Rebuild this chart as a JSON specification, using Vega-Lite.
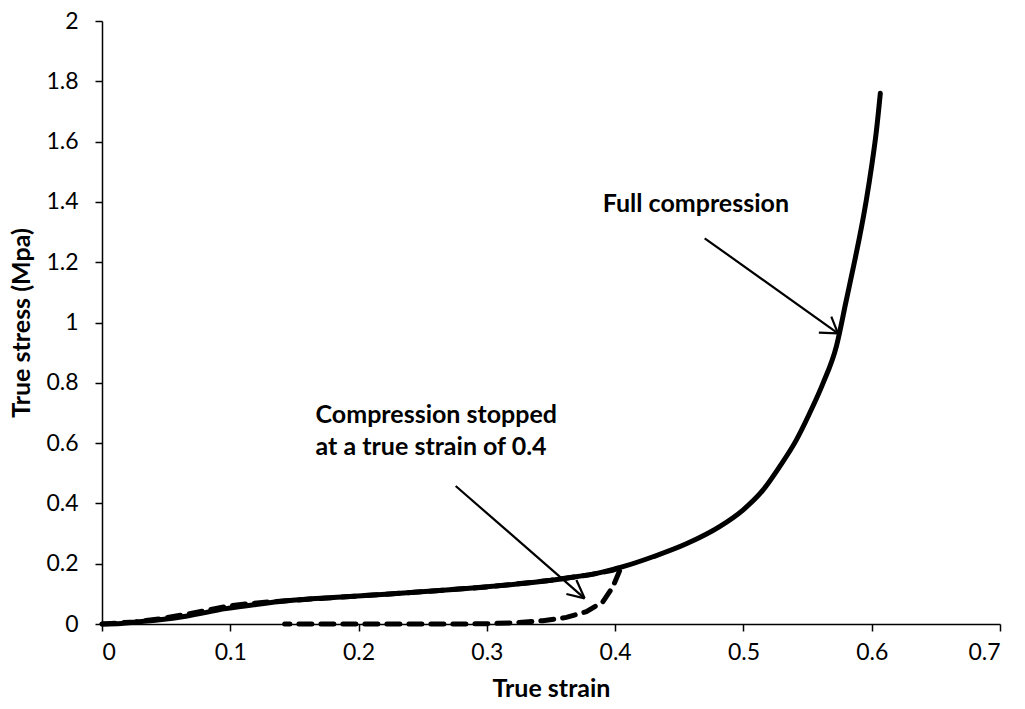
{
  "$schema": "https://vega.github.io/schema/vega-lite/v6.json",
  "autosize": {"type": "none"},
  "width": 898,
  "height": 603,
  "padding": {"left": 102, "top": 21, "right": 25, "bottom": 85},
  "background": "white",
  "config": {
    "view": {"stroke": null},
    "font": "Lato",
    "axis": {
      "domainColor": "black",
      "domainWidth": 1.5,
      "tickColor": "black",
      "tickWidth": 1.5,
      "tickSize": 7,
      "grid": false,
      "labelFont": "Lato",
      "labelFontSize": 23,
      "labelColor": "black",
      "titleFont": "Lato",
      "titleFontSize": 25,
      "titleFontWeight": "bold",
      "titleColor": "black"
    }
  },
  "datasets": {
    "solid": [
      {"strain": 0, "stress": 0},
      {"strain": 0.015, "stress": 0.002},
      {"strain": 0.026, "stress": 0.006},
      {"strain": 0.045, "stress": 0.014},
      {"strain": 0.0654, "stress": 0.026},
      {"strain": 0.0966, "stress": 0.051},
      {"strain": 0.12, "stress": 0.065},
      {"strain": 0.1463, "stress": 0.078},
      {"strain": 0.18, "stress": 0.088},
      {"strain": 0.2242, "stress": 0.0995},
      {"strain": 0.26, "stress": 0.11},
      {"strain": 0.284, "stress": 0.118},
      {"strain": 0.3022, "stress": 0.124},
      {"strain": 0.33, "stress": 0.135},
      {"strain": 0.362, "stress": 0.152},
      {"strain": 0.39, "stress": 0.172},
      {"strain": 0.4061, "stress": 0.19},
      {"strain": 0.4295, "stress": 0.223},
      {"strain": 0.4555, "stress": 0.266},
      {"strain": 0.4814, "stress": 0.323},
      {"strain": 0.4996, "stress": 0.378},
      {"strain": 0.5152, "stress": 0.444},
      {"strain": 0.5282, "stress": 0.522},
      {"strain": 0.5412, "stress": 0.61},
      {"strain": 0.5516, "stress": 0.699},
      {"strain": 0.562, "stress": 0.798},
      {"strain": 0.5724, "stress": 0.92},
      {"strain": 0.58, "stress": 1.07},
      {"strain": 0.5865, "stress": 1.2},
      {"strain": 0.5906, "stress": 1.285},
      {"strain": 0.5958, "stress": 1.406},
      {"strain": 0.6, "stress": 1.52},
      {"strain": 0.6035, "stress": 1.63},
      {"strain": 0.6067, "stress": 1.76}
    ],
    "dashed": [
      {"o": 1, "strain": 0, "stress": 0},
      {"o": 2, "strain": 0.026, "stress": 0.007},
      {"o": 3, "strain": 0.045, "stress": 0.017},
      {"o": 4, "strain": 0.0683, "stress": 0.034},
      {"o": 5, "strain": 0.085, "stress": 0.048},
      {"o": 6, "strain": 0.0994, "stress": 0.06},
      {"o": 7, "strain": 0.115, "stress": 0.068},
      {"o": 8, "strain": 0.13, "stress": 0.073},
      {"o": 9, "strain": 0.1463, "stress": 0.078},
      {"o": 10, "strain": 0.2, "stress": 0.093},
      {"o": 11, "strain": 0.25, "stress": 0.107},
      {"o": 12, "strain": 0.3, "stress": 0.123},
      {"o": 13, "strain": 0.35, "stress": 0.145},
      {"o": 14, "strain": 0.38, "stress": 0.163},
      {"o": 15, "strain": 0.398, "stress": 0.178},
      {"o": 16, "strain": 0.4048, "stress": 0.19},
      {"o": 17, "strain": 0.3983, "stress": 0.124},
      {"o": 18, "strain": 0.3905, "stress": 0.074},
      {"o": 19, "strain": 0.3776, "stress": 0.041},
      {"o": 20, "strain": 0.362, "stress": 0.022},
      {"o": 21, "strain": 0.3437, "stress": 0.011},
      {"o": 22, "strain": 0.323, "stress": 0.0043},
      {"o": 23, "strain": 0.3, "stress": 0.001},
      {"o": 24, "strain": 0.284, "stress": 0},
      {"o": 25, "strain": 0.2, "stress": 0},
      {"o": 26, "strain": 0.1424, "stress": 0}
    ],
    "arrows": [
      {"x": 0.4698, "y": 1.2793, "x2": 0.5737, "y2": 0.9642},
      {"x": 0.5685, "y": 1.0192, "x2": 0.5737, "y2": 0.9642},
      {"x": 0.5588, "y": 0.9662, "x2": 0.5737, "y2": 0.9642},
      {"x": 0.2757, "y": 0.4577, "x2": 0.3762, "y2": 0.0852},
      {"x": 0.3698, "y": 0.1459, "x2": 0.3762, "y2": 0.0852},
      {"x": 0.362, "y": 0.0995, "x2": 0.3762, "y2": 0.0852}
    ],
    "labels": [
      {"x": 0.3903, "y": 1.3675, "text": "Full compression"},
      {"x": 0.1665, "y": 0.6657, "text": "Compression stopped"},
      {"x": 0.1665, "y": 0.5605, "text": "at a true strain of 0.4"}
    ]
  },
  "layer": [
    {
      "data": {"name": "dashed"},
      "mark": {"type": "line", "color": "black", "strokeWidth": 5, "strokeDash": [13, 9], "strokeCap": "round"},
      "encoding": {
        "x": {"field": "strain", "type": "quantitative", "scale": {"domain": [0, 0.7], "nice": false},
          "axis": {"title": "True strain", "values": [0, 0.1, 0.2, 0.3, 0.4, 0.5, 0.6, 0.7], "format": ".1~f", "labelPadding": 10, "titlePadding": 12}},
        "y": {"field": "stress", "type": "quantitative", "scale": {"domain": [0, 2], "nice": false},
          "axis": {"title": "True stress (Mpa)", "values": [0, 0.2, 0.4, 0.6, 0.8, 1, 1.2, 1.4, 1.6, 1.8, 2], "format": ".1~f", "labelPadding": 17, "titlePadding": 11}},
        "order": {"field": "o", "type": "quantitative"}
      }
    },
    {
      "data": {"name": "solid"},
      "mark": {"type": "line", "color": "black", "strokeWidth": 5, "strokeCap": "round", "interpolate": "monotone"},
      "encoding": {
        "x": {"field": "strain", "type": "quantitative"},
        "y": {"field": "stress", "type": "quantitative"}
      }
    },
    {
      "data": {"name": "arrows"},
      "mark": {"type": "rule", "color": "black", "strokeWidth": 2.2},
      "encoding": {
        "x": {"field": "x", "type": "quantitative"},
        "y": {"field": "y", "type": "quantitative"},
        "x2": {"field": "x2"},
        "y2": {"field": "y2"}
      }
    },
    {
      "data": {"name": "labels"},
      "mark": {"type": "text", "align": "left", "baseline": "alphabetic", "fontSize": 25, "fontWeight": "bold", "font": "Lato", "color": "black"},
      "encoding": {
        "x": {"field": "x", "type": "quantitative"},
        "y": {"field": "y", "type": "quantitative"},
        "text": {"field": "text"}
      }
    }
  ]
}
